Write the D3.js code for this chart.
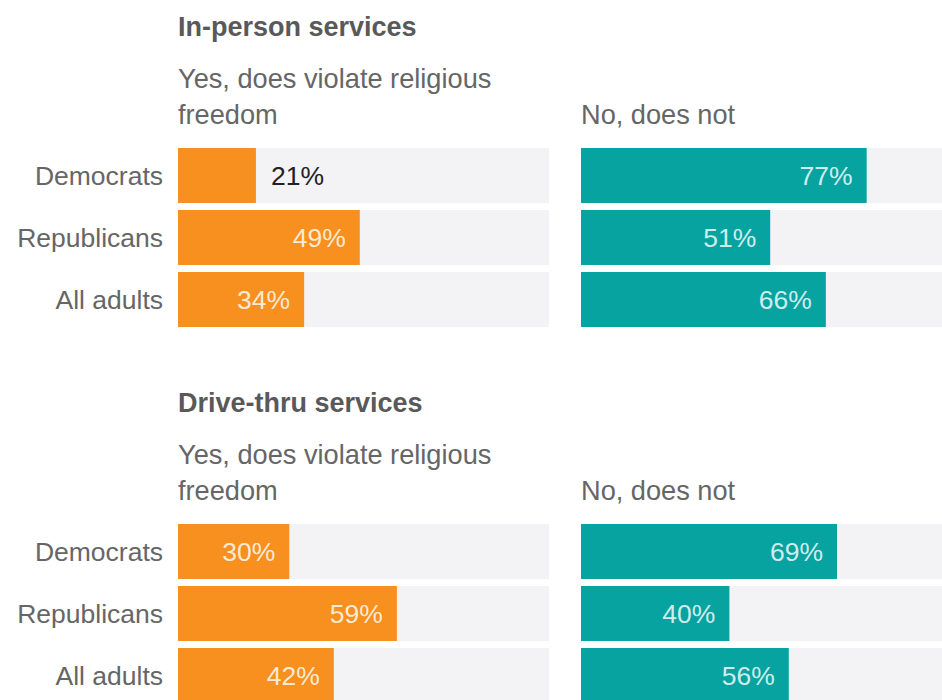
<!DOCTYPE html>
<html>
<head>
<meta charset="utf-8">
<script src="https://cdn.jsdelivr.net/npm/d3@7"></script>
<style>
  html, body { margin: 0; padding: 0; background: #fff; }
  svg { display: block; }
  text { font-family: "Liberation Sans", Arial, sans-serif; }
</style>
</head>
<body>
<svg id="chart" width="942" height="700"></svg>
<script>
const categories = ["Democrats", "Republicans", "All adults"];
const panelTitles = ["In-person services", "Drive-thru services"];
const columnLabels = [["Yes, does violate religious", "freedom"], ["No, does not"]];
const yesInPerson = [21, 49, 34];
const noInPerson = [77, 51, 66];
const yesDriveThru = [30, 59, 42];
const noDriveThru = [69, 40, 56];

const panelData = [
  [yesInPerson, noInPerson],
  [yesDriveThru, noDriveThru]
];

const colors = ["#f7901e", "#07a3a1"];
const svg = d3.select("#chart");

const x = d3.scaleLinear().domain([0, 100]).range([0, 371]);
const y = d3.scaleBand().domain(categories).range([0, 179]).paddingInner(0.113);

const colX = [178, 581];
const panelTop = [148, 524];
const fs = 26.5;

panelData.forEach((cols, p) => {
  const top = panelTop[p];
  // panel title
  svg.append("text")
    .attr("x", colX[0]).attr("y", top - 112)
    .attr("font-size", 27).attr("font-weight", "bold").attr("fill", "#595959")
    .text(panelTitles[p]);

  // column headers
  columnLabels.forEach((lines, c) => {
    const n = lines.length;
    lines.forEach((ln, i) => {
      svg.append("text")
        .attr("x", colX[c])
        .attr("y", top - 24 - (n - 1 - i) * 36)
        .attr("font-size", 27.2).attr("fill", "#666")
        .text(ln);
    });
  });

  // category labels
  svg.append("g").selectAll("text").data(categories).join("text")
    .attr("x", 163)
    .attr("y", d => top + y(d) + y.bandwidth() / 2)
    .attr("dy", "0.36em")
    .attr("text-anchor", "end")
    .attr("font-size", fs).attr("fill", "#666")
    .text(d => d);

  cols.forEach((vals, c) => {
    const g = svg.append("g").attr("transform", `translate(${colX[c]},${top})`);
    // background tracks
    g.selectAll("rect.bg").data(categories).join("rect")
      .attr("class", "bg")
      .attr("x", x(0)).attr("y", d => y(d))
      .attr("width", x(100) - x(0)).attr("height", y.bandwidth())
      .attr("fill", "#f3f3f5");
    // bars
    g.selectAll("rect.bar").data(vals).join("rect")
      .attr("class", "bar")
      .attr("x", x(0)).attr("y", (d, i) => y(categories[i]))
      .attr("width", d => x(d) - x(0)).attr("height", y.bandwidth())
      .attr("fill", colors[c]);
    // value labels
    g.selectAll("text.val").data(vals).join("text")
      .attr("class", "val")
      .attr("x", d => d < 25 ? x(d) + 15 : x(d) - 14)
      .attr("y", (d, i) => y(categories[i]) + y.bandwidth() / 2)
      .attr("dy", "0.36em")
      .attr("text-anchor", d => d < 25 ? "start" : "end")
      .attr("font-size", fs)
      .attr("fill", d => d < 25 ? "#222" : "#fff")
      .attr("fill-opacity", d => d < 25 ? 1 : 0.82)
      .text(d => d + "%");
  });
});
</script>
</body>
</html>
